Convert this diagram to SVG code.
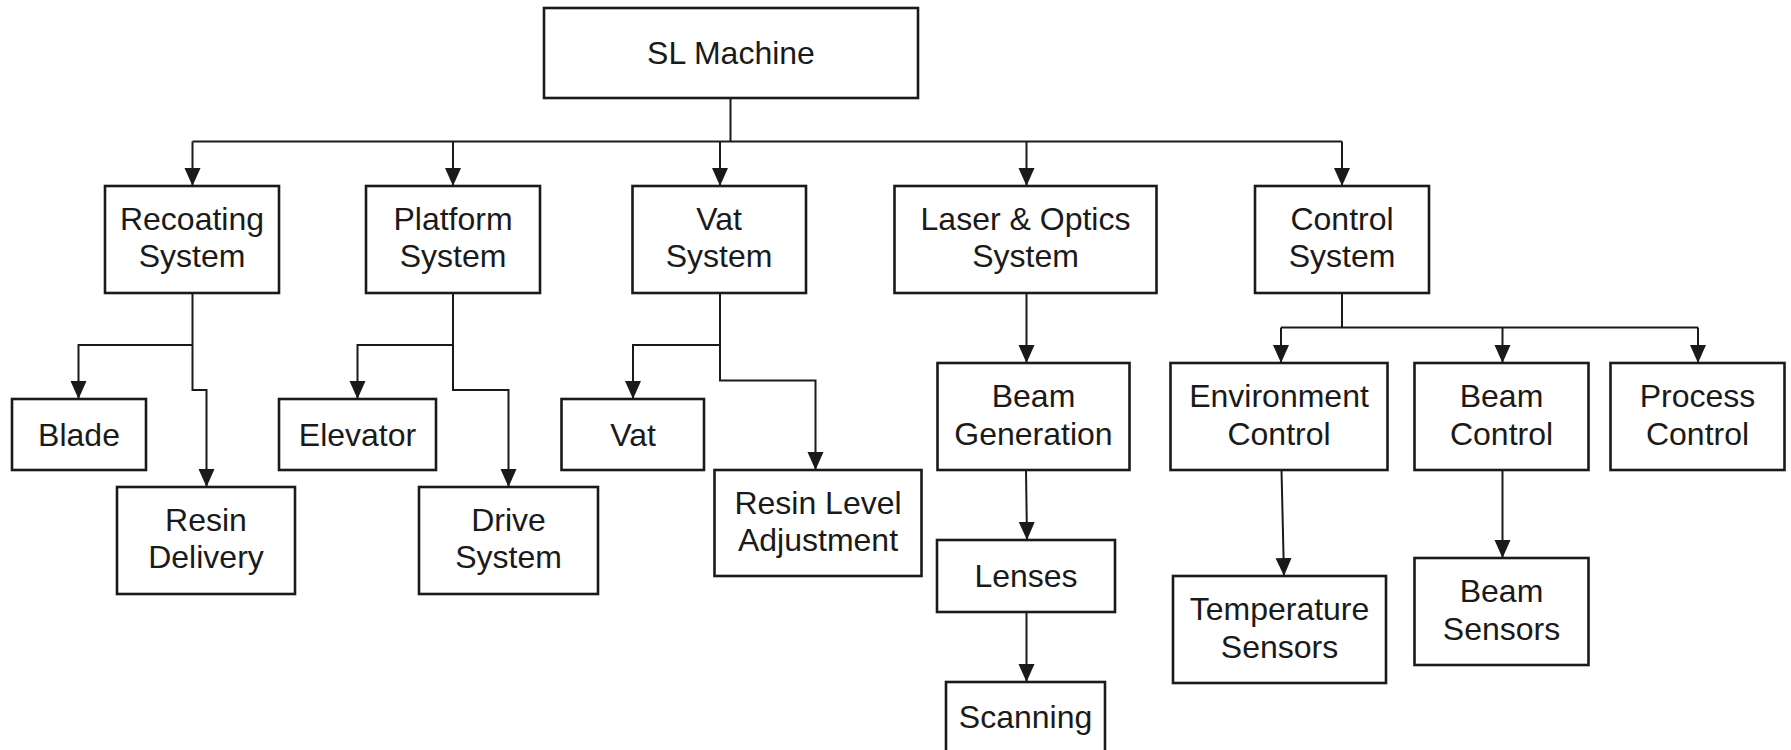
<svg xmlns="http://www.w3.org/2000/svg" width="1791" height="750" viewBox="0 0 1791 750">
<style>
.box{fill:#fff;stroke:#1a1a1a;stroke-width:2.6}
.t{font-family:"Liberation Sans",Arial,sans-serif;font-size:32px;fill:#1a1a1a;text-anchor:middle}
.c{fill:none;stroke:#1a1a1a;stroke-width:2}
</style>
<defs>
<marker id="ah" markerUnits="userSpaceOnUse" markerWidth="20" markerHeight="18" refX="18" refY="8" orient="auto">
<path d="M0,0 L18,8 L0,16 z" fill="#1a1a1a"/>
</marker>
</defs>
<rect width="1791" height="750" fill="#fff"/>
<g id="connectors">
<path class="c" d="M730.5,98 V141.5 M192.5,141.5 H1342"/>
<path class="c" marker-end="url(#ah)" d="M192.5,141.5 V186"/>
<path class="c" marker-end="url(#ah)" d="M453,141.5 V186"/>
<path class="c" marker-end="url(#ah)" d="M720,141.5 V186"/>
<path class="c" marker-end="url(#ah)" d="M1026.5,141.5 V186"/>
<path class="c" marker-end="url(#ah)" d="M1342,141.5 V186"/>
<path class="c" marker-end="url(#ah)" d="M192.5,293 V390 H206.5 V487"/>
<path class="c" marker-end="url(#ah)" d="M192.5,345 H78.5 V399"/>
<path class="c" marker-end="url(#ah)" d="M453,293 V390 H508.5 V487"/>
<path class="c" marker-end="url(#ah)" d="M453,345 H357.5 V399"/>
<path class="c" marker-end="url(#ah)" d="M720,293 V380.5 H815.5 V470"/>
<path class="c" marker-end="url(#ah)" d="M720,345 H633 V399"/>
<path class="c" marker-end="url(#ah)" d="M1026.5,293 V363"/>
<path class="c" marker-end="url(#ah)" d="M1026,470 L1027,540"/>
<path class="c" marker-end="url(#ah)" d="M1026.5,612 V682"/>
<path class="c" d="M1342,293 V327.5 M1281,327.5 H1698"/>
<path class="c" marker-end="url(#ah)" d="M1281,327.5 V363"/>
<path class="c" marker-end="url(#ah)" d="M1502.5,327.5 V363"/>
<path class="c" marker-end="url(#ah)" d="M1698,327.5 V363"/>
<path class="c" marker-end="url(#ah)" d="M1281.5,470 L1284,576"/>
<path class="c" marker-end="url(#ah)" d="M1502.5,470 V558"/>
</g>
<g id="sl-machine"><rect class="box" x="544" y="8" width="374" height="90"/><text class="t" x="731" y="64">SL Machine</text></g>
<g id="recoating"><rect class="box" x="105" y="186" width="174" height="107"/><text class="t" x="192" y="230">Recoating</text><text class="t" x="192" y="267">System</text></g>
<g id="platform"><rect class="box" x="366" y="186" width="174" height="107"/><text class="t" x="453" y="230">Platform</text><text class="t" x="453" y="267">System</text></g>
<g id="vat-system"><rect class="box" x="632.5" y="186" width="173.5" height="107"/><text class="t" x="719" y="230">Vat</text><text class="t" x="719" y="267">System</text></g>
<g id="laser-optics"><rect class="box" x="894.5" y="186" width="262" height="107"/><text class="t" x="1025.5" y="230">Laser &amp; Optics</text><text class="t" x="1025.5" y="267">System</text></g>
<g id="control"><rect class="box" x="1255" y="186" width="174" height="107"/><text class="t" x="1342" y="230">Control</text><text class="t" x="1342" y="267">System</text></g>
<g id="blade"><rect class="box" x="12" y="399" width="134" height="71"/><text class="t" x="79" y="446">Blade</text></g>
<g id="resin-delivery"><rect class="box" x="117" y="487" width="178" height="107"/><text class="t" x="206" y="531">Resin</text><text class="t" x="206" y="568">Delivery</text></g>
<g id="elevator"><rect class="box" x="279" y="399" width="157" height="71"/><text class="t" x="357.5" y="446">Elevator</text></g>
<g id="drive-system"><rect class="box" x="419" y="487" width="179" height="107"/><text class="t" x="508.5" y="531">Drive</text><text class="t" x="508.5" y="568">System</text></g>
<g id="vat"><rect class="box" x="561.5" y="399" width="142.5" height="71"/><text class="t" x="633" y="446">Vat</text></g>
<g id="resin-level"><rect class="box" x="714.5" y="470" width="207" height="106"/><text class="t" x="818" y="514">Resin Level</text><text class="t" x="818" y="551">Adjustment</text></g>
<g id="beam-generation"><rect class="box" x="937.5" y="363" width="192" height="107"/><text class="t" x="1033.5" y="407">Beam</text><text class="t" x="1033.5" y="445">Generation</text></g>
<g id="lenses"><rect class="box" x="937" y="540" width="178" height="72"/><text class="t" x="1026" y="587">Lenses</text></g>
<g id="scanning"><rect class="box" x="946" y="682" width="159" height="72"/><text class="t" x="1025.5" y="728">Scanning</text></g>
<g id="environment-control"><rect class="box" x="1170.5" y="363" width="217" height="107"/><text class="t" x="1279" y="407">Environment</text><text class="t" x="1279" y="445">Control</text></g>
<g id="beam-control"><rect class="box" x="1414.5" y="363" width="174" height="107"/><text class="t" x="1501.5" y="407">Beam</text><text class="t" x="1501.5" y="445">Control</text></g>
<g id="process-control"><rect class="box" x="1610.5" y="363" width="174" height="107"/><text class="t" x="1697.5" y="407">Process</text><text class="t" x="1697.5" y="445">Control</text></g>
<g id="temperature-sensors"><rect class="box" x="1173" y="576" width="213" height="107"/><text class="t" x="1279.5" y="620">Temperature</text><text class="t" x="1279.5" y="658">Sensors</text></g>
<g id="beam-sensors"><rect class="box" x="1414.5" y="558" width="174" height="107"/><text class="t" x="1501.5" y="602">Beam</text><text class="t" x="1501.5" y="640">Sensors</text></g>
</svg>
